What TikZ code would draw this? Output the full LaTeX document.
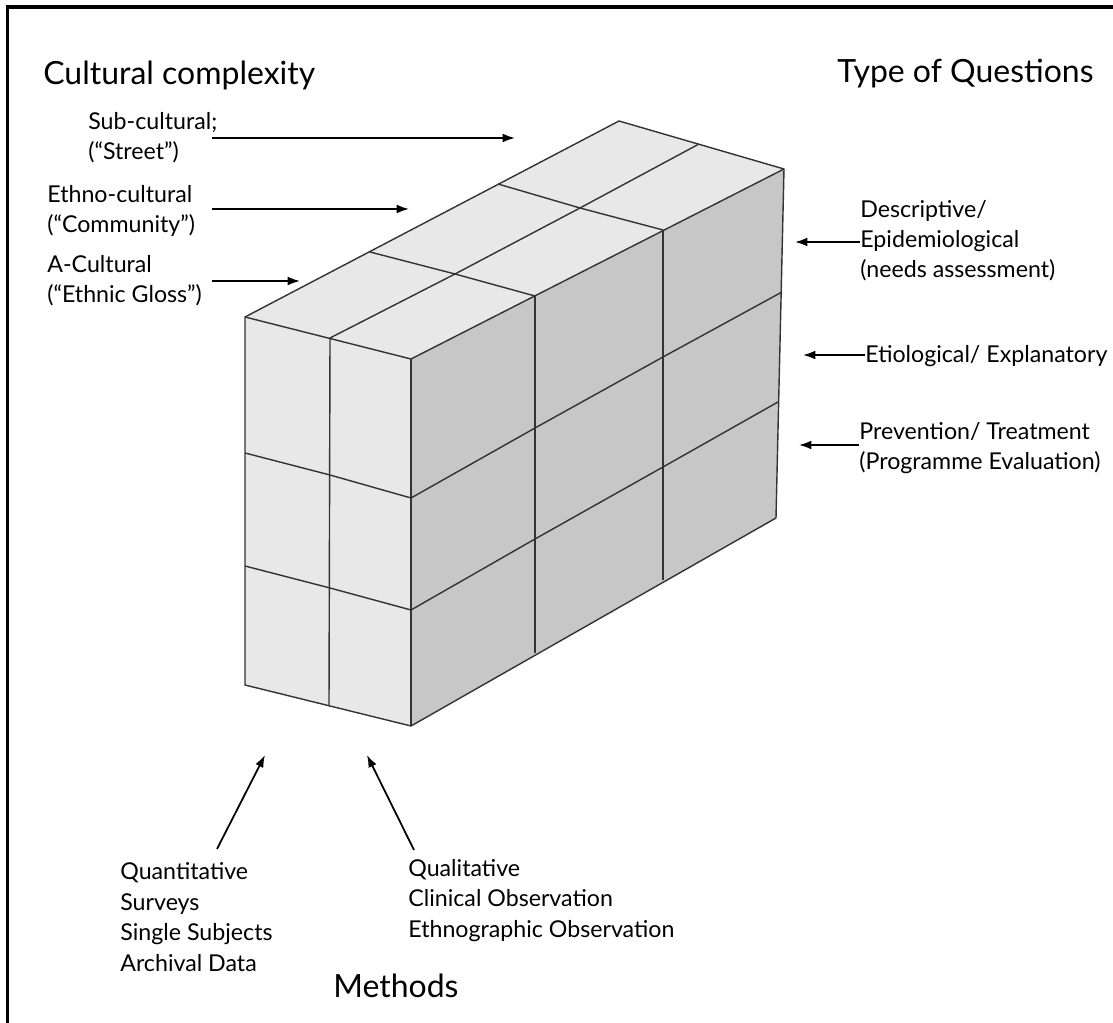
\documentclass[tikz,border=0pt]{standalone}
\usepackage{fontspec}
\setmainfont{Lato}
\usetikzlibrary{arrows.meta,positioning,calc}
\tikzset{
    edge/.style={draw=black!80, line width=0.8pt, line join=round},
    lightface/.style={fill=black!9},
    darkface/.style={fill=black!22},
    pointer/.style={-{Latex[length=7pt, width=5pt]}, line width=1pt},
    lbl/.style={anchor=base west, inner sep=0pt, align=left, font=\fontsize{13.2}{17.3}\selectfont},
    headtext/.style={anchor=base west, inner sep=0pt, font=\fontsize{18.2}{22}\selectfont}
}

\begin{document}
\begin{tikzpicture}[x=0.02cm, y=-0.02cm]
    \useasboundingbox (0,0) rectangle (1113,1023);
    \draw[line width=2pt] (7.5,1023) -- (7.5,7) -- (1113,7);

    \fill[lightface] (245,317) -- (411,359) -- (411,726) -- (245,685) -- cycle;
    \fill[lightface] (245,317) -- (619,121) -- (784,169) -- (411,359) -- cycle;
    \fill[darkface] (411,359) -- (784,169) -- (776,518) -- (411,726) -- cycle;

    \foreach \a/\b/\c in {453/475/498, 566/588/610}
        \draw[edge] (245,\a) -- (330,\b) -- (411,\c);
    \draw[edge] (330,338) -- (329,706);
    \draw[edge] (411,498) -- (535,428) -- (663,357) -- (782,292);
    \draw[edge] (411,610) -- (535,539) -- (663,467) -- (778,402);
    \draw[edge] (535,296) -- (535,653);
    \draw[edge] (663,230) -- (663,580);
    \draw[edge] (370,252) -- (455,274) -- (535,296);
    \draw[edge] (498,184) -- (580,208) -- (663,230);
    \draw[edge] (330,338) -- (455,274) -- (580,208) -- (699,144);
    \draw[edge] (245,317) -- (619,121) -- (784,169) -- (776,518) -- (411,726) -- (245,685) -- cycle;
    \draw[edge] (245,317) -- (411,359) -- (784,169);
    \draw[edge] (411,359) -- (411,726);

    \node[headtext] (complexity) at (43,85) {Cultural complexity};
    \node[headtext] (questions) at (837,83) {Type of Questions};
    \node[headtext] (methods) at (333,997) {Methods};

    \node[lbl] (sub) at (88,160) {Sub-cultural;\\(“Street”)};
    \node[lbl] (ethno) at (47,233) {Ethno-cultural\\(“Community”)};
    \node[lbl] (acult) at (47,303) {A-Cultural\\(“Ethnic Gloss”)};
    \node[lbl] (desc) at (860,278) {Descriptive/\\Epidemiological\\(needs assessment)};
    \node[lbl] (etio) at (865,363) {Etiological/ Explanatory};
    \node[lbl] (prev) at (859,470) {Prevention/ Treatment\\(Programme Evaluation)};
    \node[lbl] (quant) at (120,971) {Quantitative\\Surveys\\Single Subjects\\Archival Data};
    \node[lbl] (qual) at (408,937) {Qualitative\\Clinical Observation\\Ethnographic Observation};

    \coordinate (leftfoot) at (212,0);
    \coordinate (subtip) at (515,138);
    \coordinate (ethnotip) at (409,209);
    \coordinate (acultip) at (300,281);
    \coordinate (desctip) at (795,242);
    \coordinate (etiotip) at (803,355);
    \coordinate (prevtip) at (799,445);
    \coordinate (quantfoot) at (217,849);
    \coordinate (quanttip) at (265,755);
    \coordinate (qualfoot) at (414,850);
    \coordinate (qualtip) at (367,755);

    \draw[pointer] (leftfoot |- subtip) -- (subtip);
    \draw[pointer] (leftfoot |- ethnotip) -- (ethnotip);
    \draw[pointer] (leftfoot |- acultip) -- (acultip);
    \draw[pointer] (desc.west |- desctip) -- (desctip);
    \draw[pointer] (etio.west |- etiotip) -- (etiotip);
    \draw[pointer] (prev.west |- prevtip) -- (prevtip);
    \draw[pointer] (quantfoot) -- (quanttip);
    \draw[pointer] (qualfoot) -- (qualtip);
\end{tikzpicture}
\end{document}
